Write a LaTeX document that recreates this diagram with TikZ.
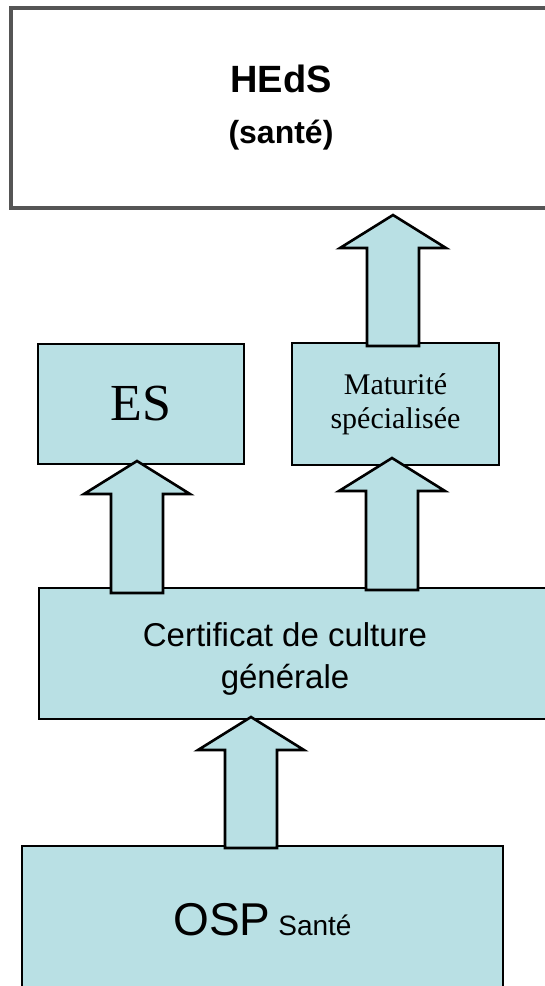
\documentclass[tikz,border=0pt]{standalone}
\usepackage{fontspec}
\setmainfont{Liberation Serif}
\setsansfont{Liberation Sans}
\usetikzlibrary{positioning, calc}
\definecolor{boxblue}{RGB}{185,224,228}
\definecolor{topgray}{RGB}{85,85,85}

% block arrow from tail (#1) up to tip (#2)
\newcommand{\blockup}[2]{%
  \path[b-arrow] let \p1=(#1), \p2=(#2) in
    (\x1-26pt,\y1) -- (\x1-26pt,\y2-33pt) -- (\x1-53pt,\y2-33pt) -- (\x1,\y2)
    -- (\x1+53pt,\y2-33pt) -- (\x1+26pt,\y2-33pt) -- (\x1+26pt,\y1) -- cycle;}

\begin{document}
\begin{tikzpicture}[x=1pt,y=-1pt,line join=miter]
	\tikzstyle{b-box}=[rectangle,draw=black,fill=boxblue,line width=2.6pt,inner sep=0pt]
	\tikzstyle{b-arrow}=[draw=black,fill=boxblue,line width=2.6pt]
	\tikzstyle{top-box}=[rectangle,draw=topgray,fill=white,line width=4pt,inner sep=0pt]
	\clip (0,0) rectangle (545,986);
	\fill[white] (0,0) rectangle (545,986);

	% top box
	\node[top-box,minimum width=540pt,minimum height=200pt,align=center,
		font=\sffamily\bfseries\fontsize{38}{46}\selectfont] (heds) at (281,108)
		{HEdS\\[5pt]{\fontsize{32}{46}\selectfont (santé)}};

	% middle row
	\node[b-box,minimum width=206pt,minimum height=120pt,
		font=\fontsize{52}{60}\selectfont] (es) at (141,404) {ES};
	\node[b-box,minimum width=207pt,minimum height=122pt,align=center,
		font=\fontsize{30}{34}\selectfont] (mat) at (395.5,404) {Maturité\\spécialisée};

	% certificate
	\node[b-box,minimum width=521pt,minimum height=131pt] (cert) at (299.5,653.5) {};
	\node[align=center,font=\sffamily\fontsize{33}{42}\selectfont] (cert-label) at (285,659)
		{Certificat de culture\\générale};

	% bottom box
	\node[b-box,minimum width=481pt,minimum height=148pt,font=\sffamily] (osp) at (262.5,920)
		{{\fontsize{46}{50}\selectfont OSP}{\fontsize{28}{30}\selectfont\ Santé}};

	% arrow ends
	\coordinate (es-in)     at (137,461);
	\coordinate (cert-out1) at (137,593);
	\coordinate (mat-in)    at (392,458);
	\coordinate (cert-out2) at (392,590);
	\coordinate (heds-in)   at (393,215);
	\coordinate (mat-out)   at (393,346);
	\coordinate (cert-in)   at (251,717);
	\coordinate (osp-out)   at (251,848);

	% arrows
	\blockup{cert-out1}{es-in}
	\blockup{cert-out2}{mat-in}
	\blockup{mat-out}{heds-in}
	\blockup{osp-out}{cert-in}
\end{tikzpicture}
\end{document}
